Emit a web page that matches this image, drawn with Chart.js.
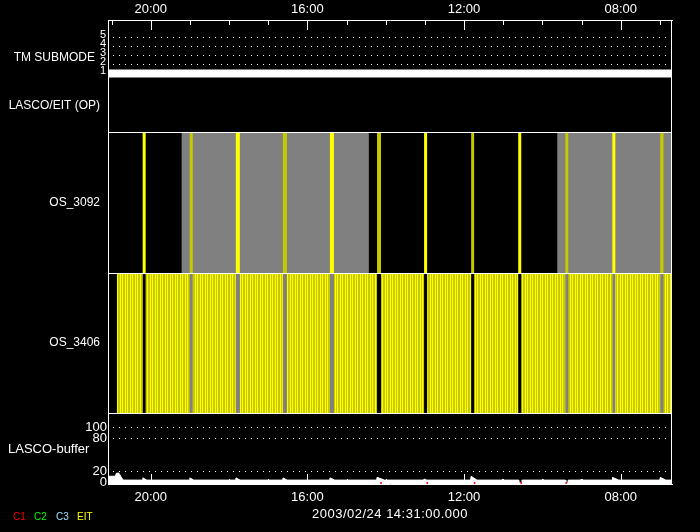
<!DOCTYPE html>
<html><head><meta charset="utf-8">
<script src="https://cdn.jsdelivr.net/npm/chart.js@4.4.1/dist/chart.umd.min.js"></script>
<style>
html,body{margin:0;padding:0;background:#000;}
#wrap{position:relative;width:700px;height:532px;background:#000;}
canvas{display:block;}
</style></head><body>
<div id="wrap"><canvas id="c" width="700" height="532"></canvas></div>
<script>
// ---- time axis (hours of day; time runs right-to-left) ----
const timeStart = 21.09;
const timeEnd = 6.69;
const majorHours = [20, 16, 12, 8];
const hourTicks = [21, 20, 19, 18, 17, 16, 15, 14, 13, 12, 11, 10, 9, 8, 7];
const dateLabel = '2003/02/24 14:31:00.000';

// ---- TM SUBMODE ----
const tmTicks = [1, 2, 3, 4, 5];
const tmTimes = [21.09, 6.69];
const tmValues = [1, 1];

// ---- OS_3092 / OS_3406 ----
const grayBlocks = [[19.21, 14.43], [9.62, 6.69]];
const brightBars = [[20.205, 20.128], [17.827, 17.724], [15.423, 15.321], [13.020, 12.943], [10.616, 10.539], [8.213, 8.137]];
const darkBars = [[19.003, 18.926], [16.625, 16.523], [14.221, 14.119], [11.818, 11.742], [9.414, 9.338], [6.990, 6.908]];
const os3406Segments = [[20.862, 20.205], [20.128, 19.003], [18.926, 17.827], [17.724, 16.625], [16.523, 15.423],
  [15.321, 14.221], [14.119, 13.020], [12.943, 11.818], [11.742, 10.616], [10.539, 9.414], [9.338, 8.213],
  [8.137, 6.990], [6.908, 6.69]];

// ---- LASCO-buffer ----
const bufTicks = [0, 20, 80, 100];
const bufferTimes = [21.09, 20.90, 20.88, 20.82, 20.78, 20.75, 20.72, 20.70,
  20.21, 20.20, 20.10, 19.01, 19.00, 18.90, 17.83, 17.82, 17.72, 16.63, 16.62, 16.52,
  15.43, 15.42, 15.30, 14.23, 14.22, 14.03, 13.03, 13.02, 12.95, 11.83, 11.82, 11.67,
  11.03, 11.02, 11.00, 10.60, 10.59, 10.53, 10.52, 10.00, 9.99, 9.97, 9.41, 9.40, 9.35, 9.34,
  9.02, 9.01, 8.99, 8.22, 8.21, 8.05, 7.00, 6.99, 6.85, 6.69];
const bufferValues = [12, 12, 17, 18, 14, 10, 7, 5,
  5, 9, 5, 5, 9, 5, 5, 9, 5, 5, 9, 5,
  5, 9, 5, 5, 10, 5, 5, 7, 5, 5, 12, 5,
  5, 7, 5, 5, 0, 0, 5, 5, 7, 5, 5, 0, 0, 5,
  5, 7, 5, 5, 10, 5, 5, 10, 5, 5];
const c1Times = [14.12, 12.94, 11.73, 10.54, 9.39, 6.70];

const legendItems = ['C1', 'C2', 'C3', 'EIT'];
const legendColors = ['#ff0000', '#00ff00', '#a0e0ff', '#ffff00'];

// ---------------------------------------------------------------
const FONT = "'Liberation Sans', Arial, sans-serif";
Chart.defaults.font.family = FONT;
Chart.defaults.color = '#ffffff';

const canvas = document.getElementById('c');
const ctx0 = canvas.getContext('2d');

function stripePattern() {
  const c = document.createElement('canvas');
  c.width = 5; c.height = 1;
  const g = c.getContext('2d');
  const cols = ['#ffff00', '#c8c800', '#ffff00', '#c8c800', '#c8c800'];
  cols.forEach((col, i) => { g.fillStyle = col; g.fillRect(i, 0, 1, 1); });
  return ctx0.createPattern(c, 'repeat');
}

const toBars = (ranges, cat) => ranges.map(r => ({x: r, y: cat}));
const barBase = {type: 'bar', indexAxis: 'y', xAxisID: 'x', grouped: false,
  barPercentage: 1, categoryPercentage: 1, borderWidth: 0, inflateAmount: 0};

const setW = s => { s.width = 108; };
const setTicks = arr => s => { s.ticks = arr.map(v => ({value: v})); };
const catAxis = (label, weight, sw) => ({
  type: 'category', labels: [label], position: 'left', stack: 'p', stackWeight: sw, weight: weight,
  offset: true, grid: {display: false, drawTicks: false},
  border: {display: true, color: '#fff', width: 1},
  ticks: {color: '#fff', font: {size: 12}, padding: 8},
  afterFit: setW
});
const fmtHour = v => (v < 10 ? '0' : '') + v + ':00';
const xAxis = (pos, h, pad) => ({
  type: 'linear', position: pos, min: timeEnd, max: timeStart, reverse: true, bounds: 'data', beginAtZero: false,
  offset: false,
  grid: {display: false, drawTicks: false, offset: false},
  border: {display: true, color: '#fff', width: 1},
  ticks: {color: '#fff', font: {size: 13}, padding: pad, autoSkip: false, maxRotation: 0, callback: fmtHour},
  afterBuildTicks: setTicks(majorHours),
  afterFit: s => { s.height = h; }
});

const frame = {
  id: 'frame',
  afterDraw(chart) {
    const {ctx, chartArea: a, scales} = chart;
    ctx.save();
    ctx.strokeStyle = '#fff';
    ctx.lineWidth = 1;
    ctx.beginPath();
    const r = Math.round(a.right) - 0.5;
    ctx.moveTo(r, a.top); ctx.lineTo(r, a.bottom);
    ['y3092', 'y3406', 'yBuf'].forEach(id => {
      const y = Math.round(scales[id].top) + 0.5;
      ctx.moveTo(a.left, y); ctx.lineTo(a.right, y);
    });
    hourTicks.forEach(h => {
      const x = Math.round(scales.x.getPixelForValue(h)) + 0.5;
      const len = majorHours.includes(h) ? 10 : 5;
      ctx.moveTo(x, a.top); ctx.lineTo(x, a.top + len);
      ctx.moveTo(x, a.bottom); ctx.lineTo(x, a.bottom - len);
    });
    ctx.stroke();

    ctx.fillStyle = '#fff';
    ctx.textBaseline = 'middle';
    ctx.font = '12px ' + FONT;
    ctx.textAlign = 'right';
    ctx.fillText('TM SUBMODE', 95, 58);
    ctx.font = '13px ' + FONT;
    ctx.textAlign = 'left';
    ctx.fillText('LASCO-buffer', 8, 449);
    ctx.textAlign = 'center';
    try { ctx.letterSpacing = '0.5px'; } catch (e) {}
    ctx.fillText(dateLabel, (a.left + a.right) / 2, 514);
    try { ctx.letterSpacing = '0px'; } catch (e) {}
    ctx.font = '10px ' + FONT;
    ctx.textAlign = 'left';
    const lx = [13, 34, 56, 77];
    legendItems.forEach((t, i) => { ctx.fillStyle = legendColors[i]; ctx.fillText(t, lx[i], 517); });
    ctx.restore();
  }
};

new Chart(canvas, {
  type: 'bar',
  data: {
    datasets: [
      {...barBase, yAxisID: 'y3092', data: toBars(grayBlocks, 'OS_3092'), backgroundColor: '#808080', order: 5},
      {...barBase, yAxisID: 'y3092', data: toBars(brightBars, 'OS_3092'), backgroundColor: '#ffff00', order: 1},
      {...barBase, yAxisID: 'y3092', data: toBars(darkBars, 'OS_3092'), backgroundColor: '#c8c800', order: 1},
      {...barBase, yAxisID: 'y3406', data: toBars(grayBlocks, 'OS_3406'), backgroundColor: '#808080', order: 5},
      {...barBase, yAxisID: 'y3406', data: toBars(os3406Segments, 'OS_3406'), backgroundColor: stripePattern(), order: 1},
      {type: 'line', xAxisID: 'x', yAxisID: 'yTM', data: tmTimes.map((t, i) => ({x: t, y: tmValues[i]})),
        borderColor: '#fff', borderWidth: 8, borderCapStyle: 'butt', pointRadius: 0, clip: 0, order: 0},
      {type: 'line', xAxisID: 'x', yAxisID: 'yBuf', data: bufferTimes.map((t, i) => ({x: t, y: bufferValues[i]})),
        borderColor: '#fff', backgroundColor: '#fff', borderWidth: 1, fill: 'start', pointRadius: 0, tension: 0, clip: 0, order: 0},
      {type: 'line', xAxisID: 'x', yAxisID: 'yBuf', data: c1Times.map(t => ({x: t, y: 0})), showLine: false,
        pointRadius: 1, pointBorderWidth: 0, pointBackgroundColor: '#ff0000', order: -1}
    ]
  },
  options: {
    responsive: false, animation: false, devicePixelRatio: 1, events: [],
    layout: {padding: {left: 0, right: 28, top: 0, bottom: 22}},
    plugins: {legend: {display: false}, tooltip: {enabled: false}},
    scales: {
      x: xAxis('top', 20, 3),
      x2: xAxis('bottom', 26, 6),
      yTM: {
        type: 'linear', position: 'left', stack: 'p', stackWeight: 60, weight: 5,
        min: 0.274, max: 6.978, bounds: 'data', offset: false, beginAtZero: false,
        afterBuildTicks: setTicks(tmTicks), afterFit: setW,
        grid: {drawTicks: false, offset: false, color: c => (c.tick && c.tick.value === 1) ? 'rgba(0,0,0,0)' : '#fff', lineWidth: 1},
        border: {display: true, color: '#fff', width: 1, dash: [1, 5], dashOffset: -4},
        ticks: {color: '#fff', font: {size: 11}, padding: 2, labelOffset: -3, autoSkip: false}
      },
      yOP: catAxis('LASCO/EIT (OP)', 4, 52),
      y3092: catAxis('OS_3092', 3, 141),
      y3406: catAxis('OS_3406', 2, 140),
      yBuf: {
        type: 'linear', position: 'left', stack: 'p', stackWeight: 71, weight: 1,
        min: -2, max: 126, bounds: 'data', offset: false, beginAtZero: false,
        afterBuildTicks: setTicks(bufTicks), afterFit: setW,
        grid: {drawTicks: false, offset: false, color: c => (c.tick && c.tick.value === 0) ? 'rgba(0,0,0,0)' : '#fff', lineWidth: 1},
        border: {display: true, color: '#fff', width: 1, dash: [1, 5], dashOffset: -4},
        ticks: {color: '#fff', font: {size: 13}, padding: 1, autoSkip: false}
      }
    }
  },
  plugins: [frame]
});
</script>
</body></html>
